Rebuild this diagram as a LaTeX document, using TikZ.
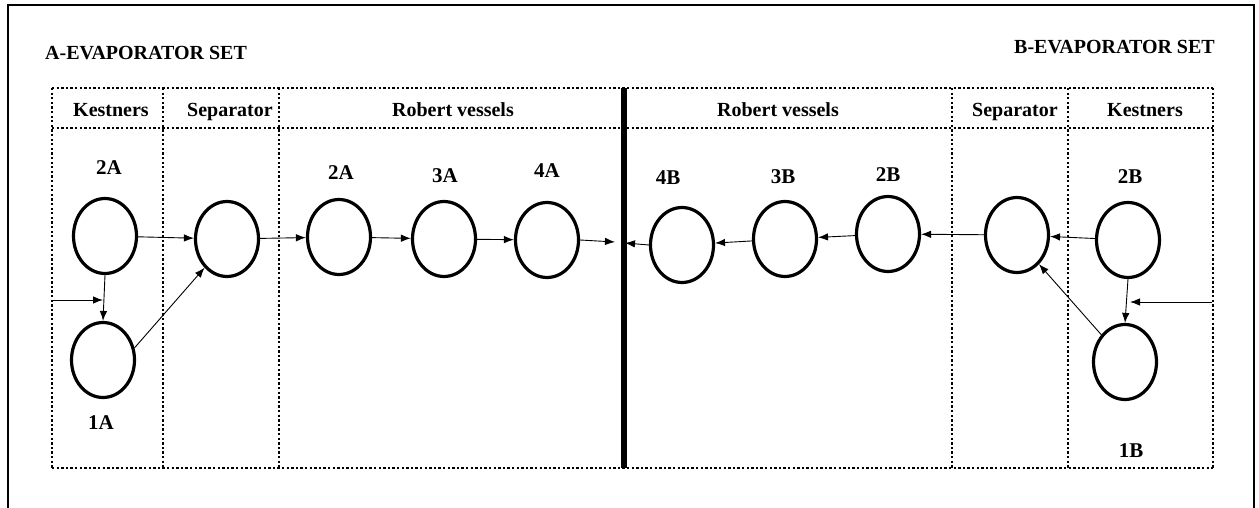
\documentclass[tikz,border=0pt]{standalone}
\usepackage{fontspec}
\setmainfont{Liberation Serif}
\usetikzlibrary{shapes.geometric,arrows.meta}
\tikzset{
  vessel/.style={ellipse, draw, line width=3.2pt, minimum width=63pt, minimum height=75pt, inner sep=0pt},
  lbl/.style={font=\fontsize{20}{24}\selectfont\bfseries, inner sep=0pt, text height=13.5pt, text depth=4.5pt},
  nlbl/.style={font=\fontsize{21}{24}\selectfont\bfseries, inner sep=0pt},
  arr/.style={line width=0.9pt, -{Latex[length=10pt,width=7.5pt]}},
  dotline/.style={line width=2.3pt, dash pattern=on 2.3pt off 2.3pt},
}
\begin{document}
\begin{tikzpicture}[x=1pt,y=-1pt]
\useasboundingbox (0,0) rectangle (1259,508);
% outer frame
\draw[line width=2pt] (8,508) -- (8,5) -- (1254,5) -- (1254,508);
% titles
\node[lbl, anchor=west] (ta) at (45,55) {A-EVAPORATOR SET};
\node[lbl, anchor=east] (tb) at (1215,49) {B-EVAPORATOR SET};
% dotted table
\draw[dotline] (52,88) -- (1213,88);
\draw[dotline] (52,128) -- (1213,128);
\draw[dotline] (52,468) -- (1213,468);
\foreach \x in {52,163,279,952,1068,1213}
  \draw[dotline] (\x,88) -- (\x,468);
\draw[line width=6pt] (624,88) -- (624,468);
% headers
\node[lbl] (h1) at (111,112) {Kestners};
\node[lbl] (h2) at (230,112) {Separator};
\node[lbl] (h3) at (453,112) {Robert vessels};
\node[lbl] (h4) at (778,112) {Robert vessels};
\node[lbl] (h5) at (1015,112) {Separator};
\node[lbl] (h6) at (1145,112) {Kestners};
% vessels
\node[vessel] (k2a) at (105,236) {};
\node[vessel] (k1a) at (103,360) {};
\node[vessel] (sepa) at (227,239) {};
\node[vessel] (r2a) at (339,237) {};
\node[vessel] (r3a) at (444,239) {};
\node[vessel] (r4a) at (547,240) {};
\node[vessel] (r4b) at (682,245) {};
\node[vessel] (r3b) at (785,239) {};
\node[vessel] (r2b) at (888,234) {};
\node[vessel] (sepb) at (1017,235) {};
\node[vessel] (k2b) at (1128,240) {};
\node[vessel] (k1b) at (1125,362) {};
% vessel labels
\node[nlbl] (lk2a) at (109,168) {2A};
\node[nlbl] (lk1a) at (101,423) {1A};
\node[nlbl] (lr2a) at (341,173) {2A};
\node[nlbl] (lr3a) at (445,176) {3A};
\node[nlbl] (lr4a) at (547,171) {4A};
\node[nlbl] (lr4b) at (668,178) {4B};
\node[nlbl] (lr3b) at (783,177) {3B};
\node[nlbl] (lr2b) at (888,175) {2B};
\node[nlbl] (lk2b) at (1130,177) {2B};
\node[nlbl] (lk1b) at (1131,451) {1B};
% coordinates
\coordinate (ina) at (52,300);
\coordinate (ina2) at (103,300);
\coordinate (inb) at (1212,302);
\coordinate (inb2) at (1130,302);
\coordinate (wa) at (615,242);
\coordinate (wb) at (625,243);
% A-side connectors
\draw[arr] (k2a) -- (sepa);
\draw[arr] (sepa) -- (r2a);
\draw[arr] (r2a) -- (r3a);
\draw[arr] (r3a) -- (r4a);
\draw[arr] (r4a.east) -- (wa);
\draw[arr] (k2a.south) -- (k1a.north);
\draw[arr] (ina) -- (ina2);
\draw[arr] (k1a.21) -- (sepa.232);
% B-side connectors
\draw[arr] (k2b) -- (sepb);
\draw[arr] (sepb) -- (r2b);
\draw[arr] (r2b) -- (r3b);
\draw[arr] (r3b) -- (r4b);
\draw[arr] (r4b.west) -- (wb);
\draw[arr] (k2b.south) -- (k1b.north);
\draw[arr] (inb) -- (inb2);
\draw[arr] (k1b.131) -- (sepb.307);
\end{tikzpicture}
\end{document}
